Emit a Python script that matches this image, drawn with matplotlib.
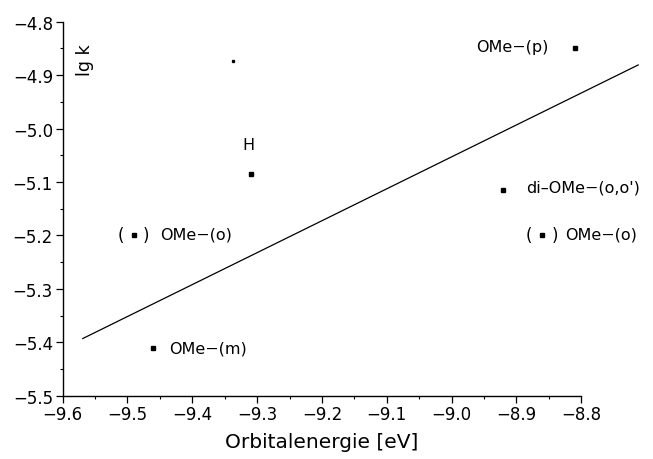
import matplotlib.pyplot as plt
from matplotlib.ticker import MultipleLocator

# measured points: orbital energy [eV] vs lg k
point_x = [-8.81, -8.92, -8.86, -9.49, -9.46, -9.31, -9.337]
point_y = [-4.85, -5.115, -5.20, -5.20, -5.41, -5.085, -4.873]
point_size = [2.6, 2.4, 2.2, 2.2, 2.6, 2.8, 1.4]

# regression line end points (runs past the axis end in the original)
fit_x = [-9.569, -8.712]
fit_y = [-5.393, -4.881]

# labels: (text, x, y, ha)
labels = [
    ("OMe\u2212(p)", -8.851, -4.847, "right"),
    ("di\u2013OMe\u2212(o,o')", -8.885, -5.110, "left"),
    ("OMe\u2212(o)", -8.824, -5.198, "left"),
    ("OMe\u2212(o)", -9.450, -5.198, "left"),
    ("OMe\u2212(m)", -9.435, -5.410, "left"),
    ("H", -9.314, -5.030, "center"),
]
# points that are drawn in brackets
bracket_x = [-8.86, -9.49]
bracket_y = [-5.20, -5.20]

fig = plt.figure(figsize=(6.53, 4.6), dpi=100)
ax = fig.add_axes([0.096, 0.1376, 0.794, 0.8131])

ax.plot(fit_x, fit_y, color="black", lw=0.9, clip_on=False)
for x, y, s in zip(point_x, point_y, point_size):
    ax.plot(x, y, marker="s", ms=s, color="black", ls="none")

for x, y in zip(bracket_x, bracket_y):
    ax.text(x - 0.021, y, "(", ha="center", va="center", fontsize=12)
    ax.text(x + 0.019, y, ")", ha="center", va="center", fontsize=12)

for text, x, y, ha in labels:
    ax.text(x, y, text, ha=ha, va="center", fontsize=11.5)

ax.set_xlim(-9.6, -8.8)
ax.set_ylim(-5.5, -4.8)
ax.xaxis.set_major_locator(MultipleLocator(0.1))
ax.xaxis.set_minor_locator(MultipleLocator(0.05))
ax.yaxis.set_major_locator(MultipleLocator(0.1))
ax.yaxis.set_minor_locator(MultipleLocator(0.05))
ax.xaxis.set_major_formatter(lambda v, p: f"{v:.1f}".replace("-", "\u2212"))
ax.yaxis.set_major_formatter(lambda v, p: f"{v:.1f}".replace("-", "\u2212"))

for side in ["top", "right"]:
    ax.spines[side].set_visible(False)
for side in ["left", "bottom"]:
    ax.spines[side].set_linewidth(1.0)

ax.tick_params(which="major", direction="out", length=5, width=0.9, labelsize=12, pad=2)
ax.tick_params(which="minor", direction="out", length=2.5, width=0.8)

ax.set_xlabel("Orbitalenergie [eV]", fontsize=14.5, labelpad=6)
ax.text(0.043, 0.90, "lg k", transform=ax.transAxes, rotation=90,
        ha="center", va="center", fontsize=12.5)

fig.savefig("out.png", dpi=100)
